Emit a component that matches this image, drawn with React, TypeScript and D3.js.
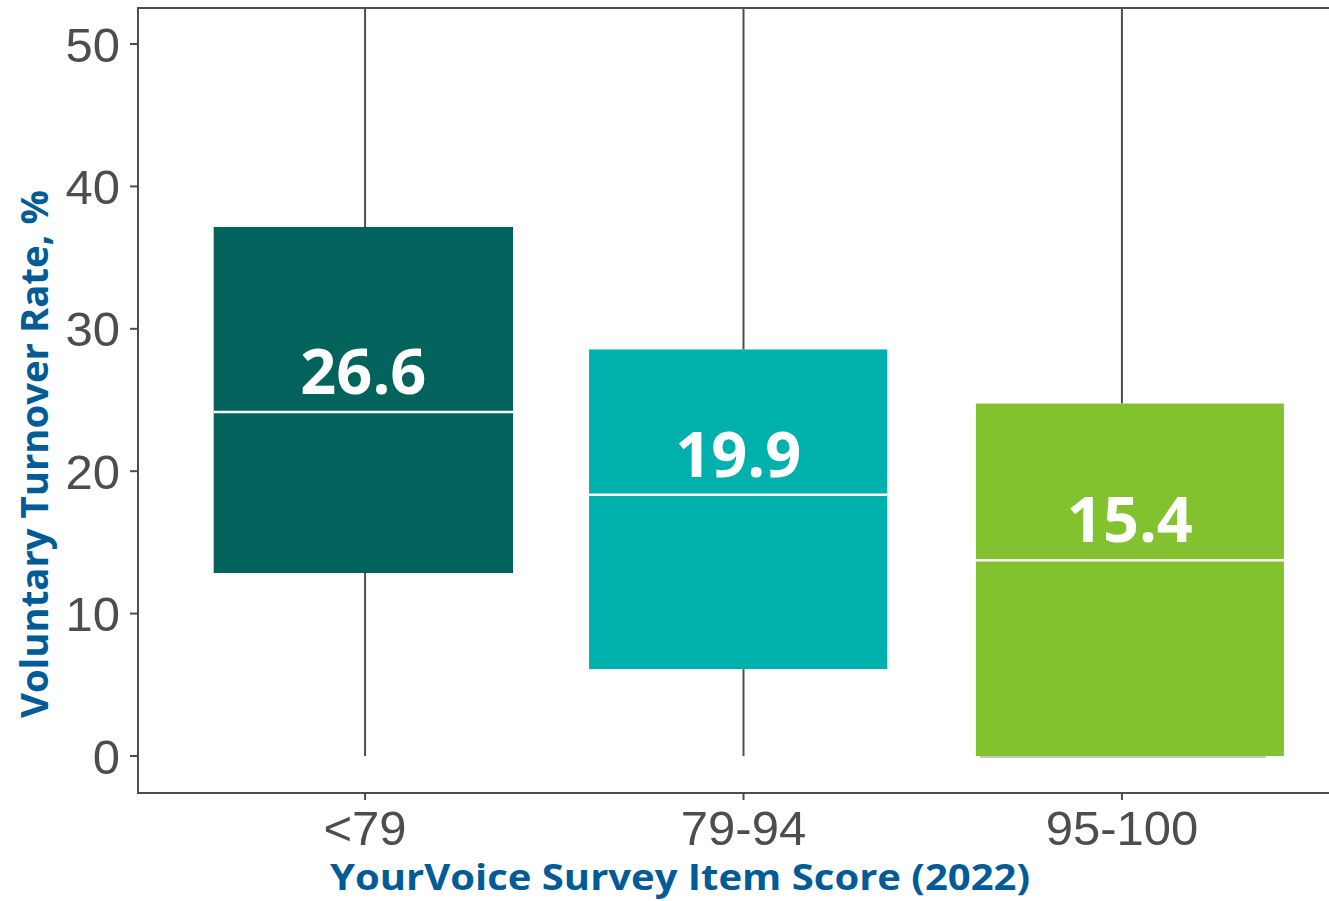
import React from "react";
import * as d3 from "d3";

const categories = ["<79", "79-94", "95-100"];
const q1 = [12.85, 6.1, 0.0];
const medians = [24.15, 18.35, 13.75];
const q3 = [37.15, 28.55, 24.75];
const whiskerLow = [0, 0, 0];
const whiskerHigh = [60, 60, 60];
const meanLabels = ["26.6", "19.9", "15.4"];
const boxLo = [-0.4, -0.408, -0.386];
const boxHi = [0.391, 0.38, 0.428];
const fills = ["#02635c", "#00b0ad", "#82c22e"];
const yTicks = [0, 10, 20, 30, 40, 50];

const W = 1329;
const H = 901;
const panel = { left: 138, top: 8, right: 1349, bottom: 793 };

export default function App() {
  const x = d3.scaleLinear().domain([-0.6, 2.6]).range([panel.left, panel.right]);
  const y = d3.scaleLinear().domain([0, 50]).range([756, 44]);
  const axisGray = "#4d4d4d";
  const blue = "#005b96";

  return (
    <svg
      width={W}
      height={H}
      style={{ position: "absolute", left: 0, top: 0, background: "#fff" }}
    >
      <defs>
        <clipPath id="panelClip">
          <rect
            x={panel.left}
            y={panel.top}
            width={panel.right - panel.left}
            height={panel.bottom - panel.top}
          />
        </clipPath>
      </defs>
      <rect x={0} y={0} width={W} height={H} fill="#fff" />
      <g clipPath="url(#panelClip)">
        {categories.map((c, i) => (
          <g key={c}>
            <line
              x1={x(i)}
              x2={x(i)}
              y1={y(q3[i])}
              y2={y(whiskerHigh[i])}
              stroke={axisGray}
              strokeWidth={2}
            />
            <line
              x1={x(i)}
              x2={x(i)}
              y1={y(q1[i])}
              y2={y(whiskerLow[i])}
              stroke={axisGray}
              strokeWidth={2}
            />
          </g>
        ))}
        {/* faint original box bottom under last box */}
        <line
          x1={x(2 - 0.375)}
          x2={x(2 + 0.38)}
          y1={y(q1[2]) + 1}
          y2={y(q1[2]) + 1}
          stroke="#888"
          strokeWidth={1}
        />
        {categories.map((c, i) => (
          <g key={"b" + c}>
            <rect
              x={x(i + boxLo[i])}
              y={y(q3[i])}
              width={x(i + boxHi[i]) - x(i + boxLo[i])}
              height={y(q1[i]) - y(q3[i])}
              fill={fills[i]}
            />
            <line
              x1={x(i + boxLo[i])}
              x2={x(i + boxHi[i])}
              y1={y(medians[i])}
              y2={y(medians[i])}
              stroke="#fff"
              strokeWidth={2.5}
            />
            <text
              x={(x(i + boxLo[i]) + x(i + boxHi[i])) / 2}
              y={y(medians[i]) - 18}
              textAnchor="middle"
              fill="#fff"
              fontFamily="'Open Sans', Lato, sans-serif"
              fontWeight={700}
              fontSize={63}
            >
              {meanLabels[i]}
            </text>
          </g>
        ))}
      </g>
      {/* panel border */}
      <rect
        x={panel.left}
        y={panel.top}
        width={panel.right - panel.left}
        height={panel.bottom - panel.top}
        fill="none"
        stroke={axisGray}
        strokeWidth={2}
      />
      {/* y axis */}
      {yTicks.map((t) => (
        <g key={"y" + t}>
          <line
            x1={panel.left - 8}
            x2={panel.left}
            y1={y(t)}
            y2={y(t)}
            stroke={axisGray}
            strokeWidth={2}
          />
          <text
            x={panel.left - 18}
            y={y(t)}
            dy="0.36em"
            textAnchor="end"
            fill={axisGray}
            fontFamily="'Liberation Sans', Arial, sans-serif"
            fontSize={49}
          >
            {t}
          </text>
        </g>
      ))}
      {/* x axis */}
      {categories.map((c, i) => (
        <g key={"x" + c}>
          <line
            x1={x(i)}
            x2={x(i)}
            y1={panel.bottom}
            y2={panel.bottom + 7}
            stroke={axisGray}
            strokeWidth={2}
          />
          <text
            x={x(i)}
            y={845}
            textAnchor="middle"
            fill={axisGray}
            fontFamily="'Liberation Sans', Arial, sans-serif"
            fontSize={49}
          >
            {c}
          </text>
        </g>
      ))}
      <text
        x={680}
        y={890}
        textAnchor="middle"
        fill={blue}
        fontFamily="'Open Sans', Lato, sans-serif"
        fontWeight={700}
        fontSize={36}
        textLength={700}
        lengthAdjust="spacingAndGlyphs"
      >
        YourVoice Survey Item Score (2022)
      </text>
      <text
        transform={`translate(48, 454) rotate(-90)`}
        textAnchor="middle"
        fill={blue}
        fontFamily="'Open Sans', Lato, sans-serif"
        fontWeight={700}
        fontSize={38}
        textLength={528}
        lengthAdjust="spacingAndGlyphs"
      >
        Voluntary Turnover Rate, %
      </text>
    </svg>
  );
}
